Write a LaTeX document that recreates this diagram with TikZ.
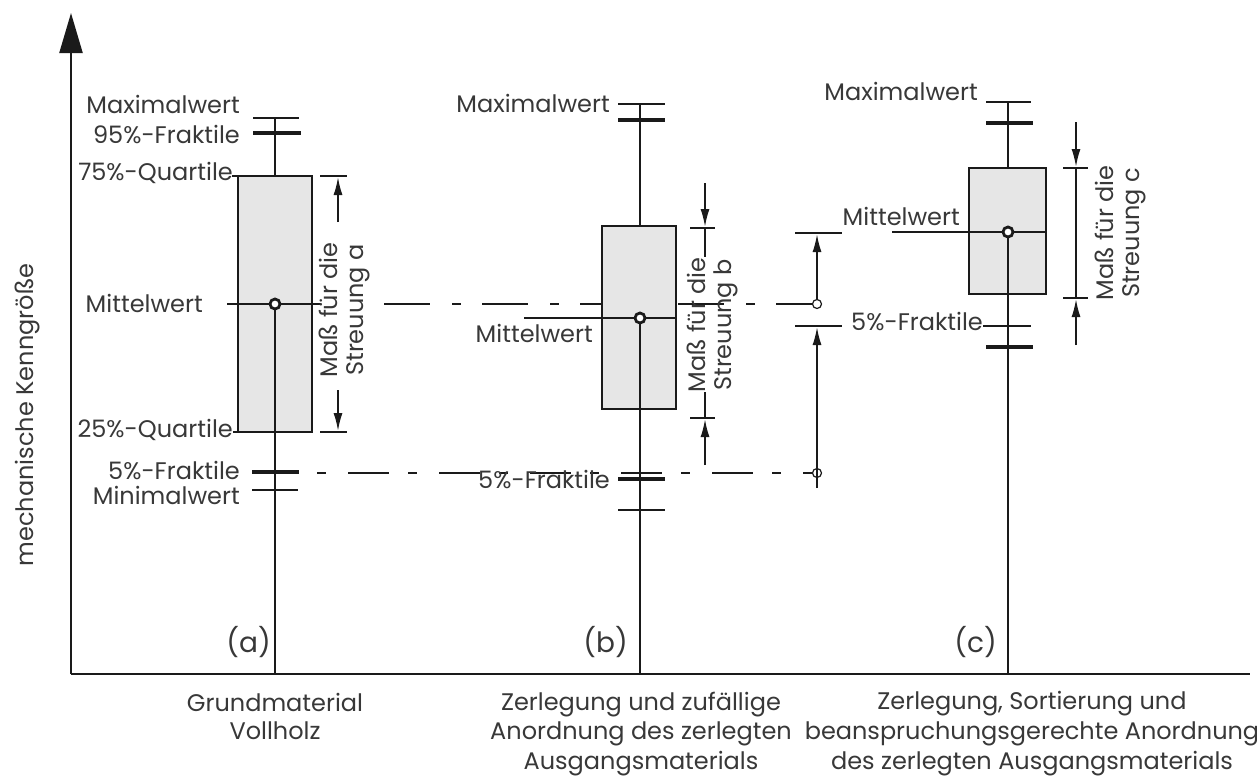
\documentclass[tikz,border=0pt]{standalone}
\usepackage{fontspec}
\setmainfont{Poppins}
\usetikzlibrary{arrows.meta}
\definecolor{ink}{HTML}{1A1A1A}
\definecolor{txt}{HTML}{383838}
\definecolor{boxfill}{HTML}{E6E6E6}
\begin{document}
\begin{tikzpicture}[x=1pt,y=-1pt,
  ln/.style={line width=1.8pt, draw=ink},
  heavy/.style={line width=4pt, draw=ink},
  axisline/.style={line width=2.2pt, draw=ink},
  boxstyle/.style={line width=1.8pt, draw=ink, fill=boxfill},
  dimarrow/.style={ln, -{Latex[length=18pt,width=9pt]}},
  meandot/.style={circle, draw=ink, line width=2.8pt, fill=white, minimum size=10pt, inner sep=0pt},
  cmpdot/.style={circle, draw=ink, line width=1.2pt, minimum size=9pt, inner sep=0pt},
  dashmean/.style={ln, dash pattern=on 46pt off 22pt on 9pt off 21pt},
  dashfive/.style={ln, dash pattern=on 9pt off 22pt on 41pt off 19pt},
  lbl/.style={font=\fontsize{24}{26}\selectfont, text=txt, inner sep=0pt, anchor=base east},
  biglbl/.style={font=\fontsize{28}{30}\selectfont, text=txt, inner sep=0pt, anchor=base east},
  captxt/.style={font=\fontsize{24}{26}\selectfont, text=txt, inner sep=0pt, anchor=base},
  rottxt/.style={font=\fontsize{24}{26}\selectfont, text=txt, inner sep=0pt, rotate=90, align=center}
]
\useasboundingbox (0,0) rectangle (1257,779);

% axes
\coordinate (O) at (71,674);
\coordinate (ytop) at (71,13);
\coordinate (xend) at (1250,674);
\draw[axisline, -{Triangle[length=40pt,width=23pt]}] (O) -- (ytop);
\draw[axisline] (O) -- (xend);
\node[rottxt] (ylab) at (27,415) {mechanische Kenngröße};

% dashed reference lines
\coordinate (dm0) at (384,304);
\coordinate (dm1) at (813,304);
\coordinate (df0) at (317,473);
\coordinate (df1) at (813,473);
\draw[dashmean] (dm0) -- (dm1);
\draw[dashfive] (df0) -- (df1);

% ---------- box (a)
\draw[boxstyle] (238,176) rectangle (312,432);
\draw[ln] (275,117) -- (275,176);
\draw[ln] (253,118) -- (299,118);
\draw[heavy] (253,133) -- (301,133);
\draw[ln] (227,304) -- (321,304);
\node[meandot] (ma) at (275,304) {};
\draw[ln] (ma.south) -- (275,674);
\draw[heavy] (252,472) -- (299,472);
\draw[ln] (252,490) -- (298,490);
\draw[ln] (232,176) -- (238,176);
\draw[ln] (233,432) -- (238,432);
\node[lbl] (amax) at (240,113) {Maximalwert};
\node[lbl] (a95) at (240,143) {95\%-Fraktile};
\node[lbl] (a75) at (233,180) {75\%-Quartile};
\node[lbl] (amw) at (203,312) {Mittelwert};
\node[lbl] (a25) at (233,437) {25\%-Quartile};
\node[lbl] (a5) at (240,479) {5\%-Fraktile};
\node[lbl] (amin) at (240,504) {Minimalwert};
\node[biglbl] (la) at (271,652) {(a)};
% dimension a
\draw[ln] (320,176) -- (347,176);
\draw[ln] (320,432) -- (347,432);
\draw[dimarrow] (338,222) -- (338,177);
\draw[dimarrow] (338,390) -- (338,431);
\node[rottxt] (dima) at (344,310) {Maß für die\\Streuung a};

% ---------- box (b)
\draw[boxstyle] (602,226) rectangle (676,409);
\draw[ln] (640,104) -- (640,226);
\draw[ln] (618,104) -- (665,104);
\draw[heavy] (618,120) -- (665,120);
\draw[ln] (524,318) -- (677,318);
\node[meandot] (mb) at (640,318) {};
\draw[ln] (mb.south) -- (640,674);
\draw[heavy] (618,479) -- (665,479);
\draw[ln] (618,510) -- (665,510);
\node[lbl] (bmax) at (610,112) {Maximalwert};
\node[lbl] (bmw) at (593,342) {Mittelwert};
\node[lbl] (b5) at (610,488) {5\%-Fraktile};
\node[biglbl] (lb) at (628,652) {(b)};
% dimension b
\draw[ln] (690,228) -- (715,228);
\draw[ln] (690,418) -- (715,418);
\draw[dimarrow] (705,183) -- (705,227);
\draw[ln] (705,228) -- (705,257);
\draw[dimarrow] (705,465) -- (705,419);
\draw[ln] (705,392) -- (705,418);
\node[rottxt] (dimb) at (712,325) {Maß für die\\Streuung b};

% comparison between (a) and (b)
\draw[ln] (795,233) -- (842,233);
\draw[ln] (795,326) -- (842,326);
\node[cmpdot] (ca) at (817,304) {};
\node[cmpdot] (cb) at (817,473) {};
\draw[dimarrow] (ca.north) -- (817,234);
\draw[dimarrow] (817,488) -- (817,327);

% ---------- box (c)
\draw[boxstyle] (969,168) rectangle (1046,294);
\draw[ln] (1008,102) -- (1008,168);
\draw[ln] (986,102) -- (1031,102);
\draw[heavy] (986,123) -- (1033,123);
\draw[ln] (892,232) -- (1046,232);
\node[meandot] (mc) at (1008,232) {};
\draw[ln] (mc.south) -- (1008,674);
\draw[ln] (983,326) -- (1031,326);
\draw[heavy] (986,347) -- (1033,347);
\node[lbl] (cmax) at (978,100) {Maximalwert};
\node[lbl] (cmw) at (960,225) {Mittelwert};
\node[lbl] (c5) at (983,330) {5\%-Fraktile};
\node[biglbl] (lc) at (997,652) {(c)};
% dimension c
\draw[ln] (1063,168) -- (1088,168);
\draw[ln] (1063,298) -- (1088,298);
\draw[dimarrow] (1076,122) -- (1076,167);
\draw[ln] (1076,168) -- (1076,298);
\draw[dimarrow] (1076,345) -- (1076,299);
\node[rottxt] (dimc) at (1120,233) {Maß für die\\Streuung c};

% ---------- captions
\node[captxt] (ga1) at (275,711) {Grundmaterial};
\node[captxt] (ga2) at (275,739) {Vollholz};
\node[captxt] (gb1) at (641,710) {Zerlegung und zufällige};
\node[captxt] (gb2) at (641,739) {Anordnung des zerlegten};
\node[captxt] (gb3) at (641,769) {Ausgangsmaterials};
\node[captxt] (gc1) at (1032,709) {Zerlegung, Sortierung und};
\node[captxt] (gc2) at (1032,739) {beanspruchungsgerechte Anordnung};
\node[captxt] (gc3) at (1032,769) {des zerlegten Ausgangsmaterials};
\end{tikzpicture}
\end{document}
